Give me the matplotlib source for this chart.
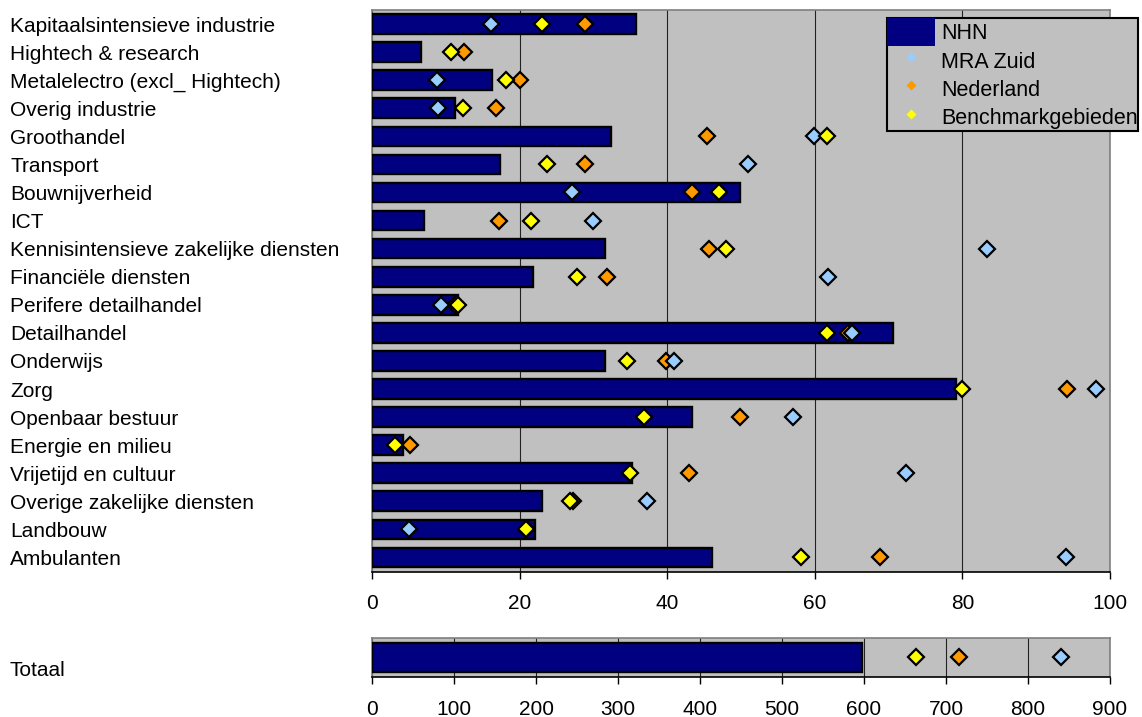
import numpy as np
import matplotlib
matplotlib.use("Agg")
import matplotlib.pyplot as plt
from matplotlib.patches import Patch
from matplotlib.lines import Line2D

plt.rcParams['font.family'] = ['Liberation Sans', 'DejaVu Sans']
plt.rcParams['font.size'] = 15

# sectors (top to bottom)
sectors = [
    "Kapitaalsintensieve industrie", "Hightech & research",
    "Metalelectro (excl_ Hightech)", "Overig industrie", "Groothandel",
    "Transport", "Bouwnijverheid", "ICT",
    "Kennisintensieve zakelijke diensten", "Financiële diensten",
    "Perifere detailhandel", "Detailhandel", "Onderwijs", "Zorg",
    "Openbaar bestuur", "Energie en milieu", "Vrijetijd en cultuur",
    "Overige zakelijke diensten", "Landbouw", "Ambulanten",
]
nhn = [35.8, 6.6, 16.3, 11.2, 32.4, 17.4, 49.9, 7.0, 31.6, 21.8,
       11.6, 70.6, 31.6, 79.2, 43.4, 4.2, 35.2, 23.0, 22.1, 46.1]
mra_zuid = [16.1, np.nan, 8.8, 8.9, 59.9, 51.0, 27.1, 29.9, 83.4, 61.8,
            9.3, 65.1, 40.9, 98.1, 57.0, np.nan, 72.4, 37.3, 5.0, 94.0]
nederland = [28.9, 12.5, 20.1, 16.8, 45.4, 28.8, 43.4, 17.2, 45.7, 31.8,
             11.2, 64.5, 39.8, 94.2, 49.9, 5.2, 42.9, 27.3, 20.8, 68.9]
benchmark = [23.1, 10.7, 18.1, 12.3, 61.7, 23.7, 47.0, 21.6, 48.0, 27.8,
             11.7, 61.7, 34.5, 79.9, 36.9, 3.1, 34.9, 26.8, 20.9, 58.1]

# totals
totaal_label = "Totaal"
tot_nhn = 598
tot_mra_zuid = 840
tot_nederland = 716
tot_benchmark = 663

series_names = ["NHN", "MRA Zuid", "Nederland", "Benchmarkgebieden"]
navy = "#000080"
c_mra = "#99CCFF"
c_nl = "#FF9900"
c_bm = "#FFFF00"
bg = "#C0C0C0"

W, H = 1142, 717
fig = plt.figure(figsize=(W / 100, H / 100), dpi=100)
ax = fig.add_axes([372 / W, 1 - 571.5 / H, 738 / W, 561.5 / H])
ax2 = fig.add_axes([372 / W, 1 - 677.3 / H, 738 / W, 39.6 / H])


def style_axes(a, ticks):
    a.set_facecolor(bg)
    a.set_axisbelow(True)
    a.xaxis.grid(True, color="#222222", linewidth=0.8)
    a.set_xticks(ticks)
    a.tick_params(axis="x", direction="out", length=5, width=1, pad=11, labelsize=15)
    for s in ["top", "left", "right"]:
        a.spines[s].set_color("#7f7f7f")
        a.spines[s].set_linewidth(1.2)
    a.spines["bottom"].set_color("black")
    a.spines["bottom"].set_linewidth(1.2)


def draw_markers(a, y, mra, nl, bm):
    kw = dict(marker="D", markersize=7.8, markeredgecolor="black",
              markeredgewidth=1.6, linestyle="none")
    a.plot(nl, y, markerfacecolor=c_nl, zorder=4, **kw)
    a.plot(mra, y, markerfacecolor=c_mra, zorder=5, **kw)
    a.plot(bm, y, markerfacecolor=c_bm, zorder=6, **kw)


# main panel
y = np.arange(len(sectors))
style_axes(ax, range(0, 101, 20))
ax.barh(y, nhn, height=0.7, color=navy, edgecolor="black", linewidth=1.7, zorder=3)
draw_markers(ax, y, mra_zuid, nederland, benchmark)
ax.set_xlim(0, 100)
ax.set_ylim(len(sectors) - 0.5, -0.5)
ax.set_yticks(y)
ax.set_yticklabels(sectors, ha="left", fontsize=15)
ax.tick_params(axis="y", length=0, pad=260.6)

# totaal panel
style_axes(ax2, range(0, 901, 100))
ax2.barh([0], [tot_nhn], height=0.73, color=navy, edgecolor="black", linewidth=1.7, zorder=3)
draw_markers(ax2, [0], [tot_mra_zuid], [tot_nederland], [tot_benchmark])
ax2.set_xlim(0, 900)
ax2.set_ylim(-0.5, 0.5)
ax2.set_yticks([])
fig.text(10 / W, 1 - 671 / H, totaal_label, ha="left", va="center", fontsize=15)

# legend
handles = [
    Patch(facecolor=navy, edgecolor="none"),
    Line2D([], [], marker="D", linestyle="none", markersize=5.5,
           markerfacecolor=c_mra, markeredgecolor="none"),
    Line2D([], [], marker="D", linestyle="none", markersize=5.5,
           markerfacecolor=c_nl, markeredgecolor="none"),
    Line2D([], [], marker="D", linestyle="none", markersize=5.5,
           markerfacecolor=c_bm, markeredgecolor="none"),
]
leg = fig.legend(handles, series_names, loc="upper left",
                 bbox_to_anchor=(886.7 / W, 1 - 18 / H), bbox_transform=fig.transFigure,
                 borderpad=0, borderaxespad=0, handlelength=2.25, handleheight=1.65,
                 handletextpad=0.27, labelspacing=0, fancybox=False,
                 framealpha=1, facecolor=bg, edgecolor="black", fontsize=15.5)
leg.get_frame().set_linewidth(1.5)

fig.savefig("out.png", dpi=100)
